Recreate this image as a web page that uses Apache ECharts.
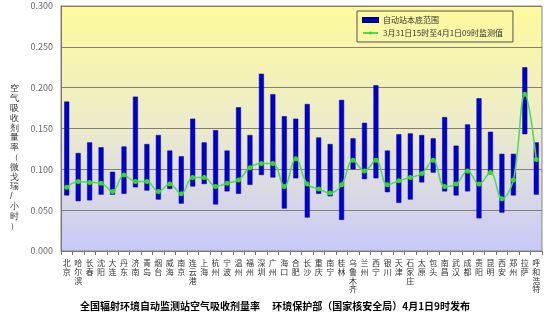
<!DOCTYPE html>
<html><head><meta charset="utf-8">
<script src="https://cdn.jsdelivr.net/npm/echarts@6/dist/echarts.min.js"></script>
<style>html,body{margin:0;padding:0;background:#fff}#c{width:550px;height:314px}</style>
</head><body><div id="c"></div>
<script>
var categories = ['北京','哈尔滨','长春','沈阳','大连','丹东','济南','青岛','烟台','威海','南京','连云港','上海','杭州','宁波','温州','福州','深圳','广州','海口','合肥','长沙','重庆','南宁','桂林','乌鲁木齐','兰州','西宁','银川','天津','石家庄','太原','包头','南昌','武汉','成都','贵阳','昆明','西安','郑州','拉萨','呼和浩特'];
var rangeLow = [0.068,0.061,0.062,0.069,0.069,0.070,0.078,0.074,0.063,0.076,0.058,0.079,0.082,0.057,0.073,0.070,0.081,0.093,0.090,0.052,0.089,0.041,0.070,0.067,0.038,0.100,0.088,0.089,0.072,0.059,0.063,0.084,0.096,0.073,0.068,0.073,0.040,0.094,0.047,0.068,0.143,0.069];
var rangeHigh = [0.183,0.120,0.133,0.127,0.097,0.128,0.189,0.131,0.142,0.123,0.116,0.162,0.133,0.148,0.123,0.176,0.142,0.217,0.192,0.165,0.162,0.180,0.139,0.131,0.185,0.138,0.157,0.203,0.123,0.143,0.144,0.142,0.138,0.164,0.129,0.155,0.187,0.146,0.119,0.119,0.225,0.133];
var measured = [0.078,0.085,0.084,0.083,0.073,0.093,0.085,0.085,0.073,0.082,0.070,0.090,0.090,0.079,0.083,0.087,0.102,0.107,0.107,0.079,0.113,0.082,0.076,0.071,0.081,0.111,0.098,0.111,0.081,0.086,0.090,0.095,0.111,0.079,0.082,0.098,0.082,0.096,0.064,0.087,0.192,0.112];
var yTicks = ['0.000','0.050','0.100','0.150','0.200','0.250','0.300'];
var rangeName = '自动站本底范围';
var lineName = '3月31日15时至4月1日09时监测值';
var titleText = '全国辐射环境自动监测站空气吸收剂量率　 环境保护部（国家核安全局）4月1日9时发布';
var yName = '空气吸收剂量率（微戈瑞/小时）';

var chart = echarts.init(document.getElementById('c'), null, {renderer:'canvas'});
var font = '"Noto Sans CJK SC", sans-serif';
chart.setOption({
  animation:false,
  textStyle:{fontFamily:font},
  title:{text:titleText,left:'center',top:296,textStyle:{fontSize:10,fontWeight:'bold',color:'#000',fontFamily:font}},
  legend:{
    orient:'vertical',left:357,top:11,
    borderColor:'#555',borderWidth:1,backgroundColor:'rgba(0,0,0,0)',
    padding:[5,10,5,5],itemGap:5,itemWidth:15,itemHeight:4,
    textStyle:{fontSize:8,color:'#333',fontFamily:font},
    data:[{name:rangeName,icon:'rect'},{name:lineName}]
  },
  graphic:[{type:'text',left:10,top:84,style:{text:yName.split('').join('\n'),fontSize:9,lineHeight:9.8,fill:'#333',font:'9px '+font}}],
  grid:{left:61,right:8,top:6,bottom:63,show:true,borderColor:'#8a8a80',borderWidth:1,
    backgroundColor:new echarts.graphic.LinearGradient(0,0,0,1,[{offset:0,color:'#fdfa9c'},{offset:0.5,color:'#ecebcc'},{offset:1,color:'#c8c8fa'}])},
  xAxis:{type:'category',data:categories,boundaryGap:true,
    axisLine:{lineStyle:{color:'#777'}},
    axisTick:{show:true,inside:false,length:4,lineStyle:{color:'#777'}},
    axisLabel:{interval:0,fontSize:8,lineHeight:8.6,color:'#333',margin:8,
      formatter:function(v){return v.split('').join('\n');}}
  },
  yAxis:{type:'value',min:0,max:0.3,interval:0.05,
    axisLine:{show:true,lineStyle:{color:'#777'}},
    axisTick:{show:false},
    splitLine:{lineStyle:{color:'#858070',width:1}},
    axisLabel:{fontSize:9,color:'#666',margin:8,formatter:function(v){return yTicks[Math.round(v/0.05)];}}
  },
  series:[
    {name:'base',type:'bar',stack:'r',data:rangeLow,barWidth:5,itemStyle:{color:'rgba(0,0,0,0)'},silent:true},
    {name:rangeName,type:'bar',stack:'r',barWidth:5,
      data:rangeHigh.map(function(h,i){return +(h-rangeLow[i]).toFixed(4);}),
      itemStyle:{color:'#0000d0',borderColor:'#00008a',borderWidth:0.5}},
    {name:lineName,type:'line',data:measured,smooth:0.4,symbol:'circle',symbolSize:5,
      lineStyle:{color:'#4ddd4d',width:1.5},itemStyle:{color:'#33d633'},z:5}
  ]
});
</script></body></html>
